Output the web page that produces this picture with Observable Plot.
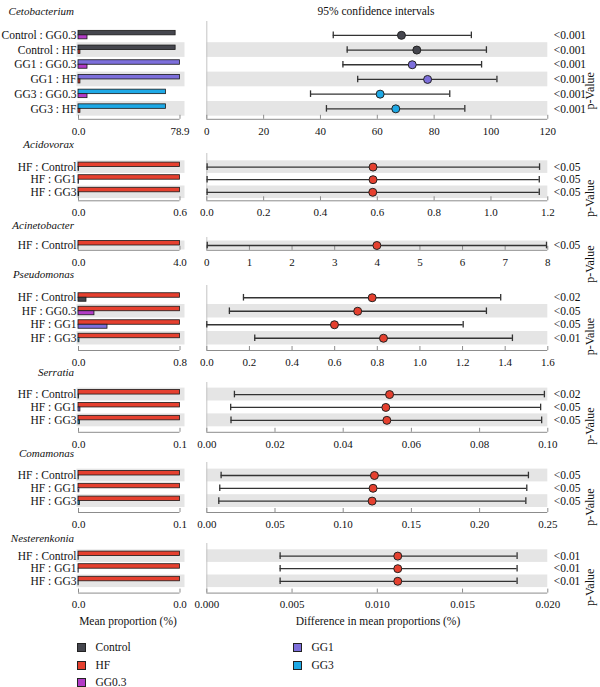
<!DOCTYPE html>
<html>
<head>
<meta charset="utf-8">
<script src="https://cdn.jsdelivr.net/npm/d3@7"></script>
<script src="https://cdn.jsdelivr.net/npm/@observablehq/plot@0.6"></script>
<style>
  body { margin: 0; background: #fff; }
  #fig { position: relative; width: 600px; height: 687px; overflow: hidden;
         font-family: "Liberation Serif", "DejaVu Serif", serif; color: #111; }
  .lbl { position: absolute; white-space: nowrap; line-height: 14px; }
  .title { font-style: italic; font-size: 11px; text-align: right; width: 74px; left: 0; }
  .swatch { position: absolute; width: 7px; height: 7px; border: 1px solid #222; }
</style>
</head>
<body>
<div id="fig"></div>
<script>
// Groups and their colours
const groups = ["Control", "HF", "GG0.3", "GG1", "GG3"];
const groupColors = ["#45464e", "#e5402f", "#b23bc6", "#7d6fdb", "#1ea9e6"];

const genera = ["Cetobacterium", "Acidovorax", "Acinetobacter", "Pseudomonas", "Serratia", "Comamonas", "Nesterenkonia"];

// Rows per genus: [group A, group B, mean A (%), mean B (%), difference, CI low, CI high, p]
const cetobacterium = [
  ["Control", "GG0.3", 75.5, 7.0, 68.5, 44.5, 93.1, "<0.001"],
  ["Control", "HF",    75.5, 1.5, 73.9, 49.4, 98.4, "<0.001"],
  ["GG1",     "GG0.3", 78.9, 7.0, 72.3, 47.9, 96.7, "<0.001"],
  ["GG1",     "HF",    78.9, 1.5, 77.7, 53.1, 102.1, "<0.001"],
  ["GG3",     "GG0.3", 68.0, 7.0, 61.0, 36.5, 85.5, "<0.001"],
  ["GG3",     "HF",    68.0, 1.5, 66.5, 42.1, 90.8, "<0.001"]
];
const acidovorax = [
  ["HF", "Control", 0.59, 0.003, 0.585, 0.001, 1.171, "<0.05"],
  ["HF", "GG1",     0.59, 0.003, 0.585, 0.001, 1.170, "<0.05"],
  ["HF", "GG3",     0.59, 0.004, 0.584, 0.001, 1.170, "<0.05"]
];
const acinetobacter = [
  ["HF", "Control", 3.99, 0.004, 3.99, 0.01, 7.97, "<0.05"]
];
const pseudomonas = [
  ["HF", "Control", 0.84, 0.066, 0.776, 0.172, 1.379, "<0.02"],
  ["HF", "GG0.3",   0.84, 0.132, 0.708, 0.106, 1.312, "<0.05"],
  ["HF", "GG1",     0.84, 0.240, 0.599, 0.000, 1.203, "<0.05"],
  ["HF", "GG3",     0.84, 0.008, 0.829, 0.225, 1.434, "<0.01"]
];
const serratia = [
  ["HF", "Control", 0.0535, 0.0003, 0.0536, 0.0081, 0.0990, "<0.02"],
  ["HF", "GG1",     0.0535, 0.0010, 0.0525, 0.0070, 0.0979, "<0.05"],
  ["HF", "GG3",     0.0535, 0.0008, 0.0528, 0.0071, 0.0982, "<0.05"]
];
const comamonas = [
  ["HF", "Control", 0.123, 0.0003, 0.1229, 0.0105, 0.2358, "<0.05"],
  ["HF", "GG1",     0.123, 0.0010, 0.1219, 0.0095, 0.2346, "<0.05"],
  ["HF", "GG3",     0.123, 0.0016, 0.1212, 0.0088, 0.2339, "<0.05"]
];
const nesterenkonia = [
  ["HF", "Control", 0.0112, 0.00002, 0.0112, 0.0043, 0.0182, "<0.01"],
  ["HF", "GG1",     0.0112, 0.00002, 0.0112, 0.0043, 0.0182, "<0.01"],
  ["HF", "GG3",     0.0112, 0.00002, 0.0112, 0.0043, 0.0182, "<0.01"]
];

// Confidence-interval axes: upper limit, tick step and tick format
const ciMax = [120, 1.2, 8, 1.6, 0.10, 0.25, 0.020];
const ciStep = [20, 0.2, 1, 0.2, 0.02, 0.05, 0.005];
const ciFormat = ["d", ".1f", "d", ".1f", ".2f", ".2f", ".3f"];

const panels = [cetobacterium, acidovorax, acinetobacter, pseudomonas, serratia, comamonas, nesterenkonia];

// Vertical layout of each panel (page pixels)
const layout = [
  {title: 11,    top: 20.5,  band: 27,    step: 14.7, axis: 118.3},
  {title: 143.5, top: 152.7, band: 160,   step: 12.6, axis: 200},
  {title: 225,   top: 236.5, band: 240,   step: 9,    axis: 249.3},
  {title: 274,   top: 285,   band: 290.5, step: 13.5, axis: 350},
  {title: 372,   top: 381.7, band: 387.3, step: 12.9, axis: 431.5},
  {title: 453.3, top: 461.7, band: 468.3, step: 12.8, axis: 511.7},
  {title: 537.7, top: 542.7, band: 549,   step: 12.6, axis: 592.3}
];

const fig = document.getElementById("fig");
const colorOf = g => groupColors[groups.indexOf(g)];
const svgStyle = {background: "transparent", overflow: "visible",
  fontFamily: '"Liberation Serif", "DejaVu Serif", serif', fontSize: "11px", color: "#111"};
const axisGray = "#8c8c8c";
const bandGray = "#e5e5e5";

function label(text, x, y, cls, extra = {}) {
  const d = document.createElement("div");
  d.className = "lbl " + (cls || "");
  d.textContent = text;
  d.style.top = (y - 7) + "px";
  if (x != null) d.style.left = x + "px";
  Object.assign(d.style, extra);
  fig.appendChild(d);
  return d;
}

function place(svg, left, top) {
  svg.style.position = "absolute";
  svg.style.left = left + "px";
  svg.style.top = top + "px";
  fig.appendChild(svg);
}

panels.forEach((rows, k) => {
  const L = layout[k];
  const n = rows.length;
  const oy = L.top - 1;
  const frameBottom = L.axis - oy;
  const H = frameBottom + 24;
  const mb = H - frameBottom;
  const u = px => px / L.step;                        // pixels → row units
  const axisVal = -0.5 + (L.axis - L.band) / L.step;  // row units of the axis line
  const yScale = {domain: [-0.5, n - 0.5], range: [L.band - oy, L.band - oy + n * L.step], axis: null};

  const data = rows.map((r, i) => ({
    i, a: r[0], b: r[1], ma: r[2], mb: r[3], diff: r[4], lo: r[5], hi: r[6], p: r[7],
    label: `${r[0]} : ${r[1]}`
  }));
  const shaded = data.filter(d => (n - 1 - d.i) % 2 === 0);
  const barMax = d3.max(data, d => Math.max(d.ma, d.mb));

  // Mean proportions
  const left = Plot.plot({
    width: 190, height: H,
    marginTop: 1, marginBottom: mb, marginLeft: 76.5, marginRight: 5.5,
    style: svgStyle,
    color: {type: "identity"},
    x: {domain: [0, barMax], insetLeft: 1.5, insetRight: 5,
        ticks: [0, barMax], tickFormat: d3.format(".1f"), tickSize: 0, tickPadding: 7.5, label: null},
    y: yScale,
    marks: [
      Plot.rect(shaded, {y1: d => d.i - 0.5, y2: d => d.i + 0.5, fill: bandGray}),
      Plot.rect(data, {x1: d => 0, x2: "ma", y1: d => d.i - u(4.5), y2: d => d.i,
        fill: d => colorOf(d.a), stroke: "#1a1a1a", strokeWidth: 0.8}),
      Plot.rect(data, {x1: d => 0, x2: "mb", y1: d => d.i, y2: d => d.i + u(4),
        fill: d => colorOf(d.b), stroke: "#1a1a1a", strokeWidth: 0.8}),
      Plot.text(data, {x: d => 0, y: "i", text: "label", textAnchor: "end", dx: -2, fontSize: 11.5}),
      Plot.ruleY([axisVal], {x1: 0, x2: barMax, stroke: axisGray}),
      Plot.ruleX([0, barMax], {x: d => d, y1: axisVal, y2: axisVal - u(4), stroke: axisGray})
    ]
  });
  place(left, 0, oy);

  // Differences with 95% confidence intervals
  const ticks = d3.range(0, ciMax[k] + ciStep[k] / 2, ciStep[k]);
  const right = Plot.plot({
    width: 410, height: H,
    marginTop: 1, marginBottom: mb, marginLeft: 16.3, marginRight: 52.7,
    style: svgStyle,
    color: {type: "identity"},
    x: {domain: [0, ciMax[k]], ticks, tickFormat: d3.format(ciFormat[k]),
        tickSize: 0, tickPadding: 7.5, label: null},
    y: yScale,
    marks: [
      Plot.rect(shaded, {y1: d => d.i - 0.5, y2: d => d.i + 0.5, fill: bandGray}),
      Plot.ruleX([0], {stroke: "#c4c4c4"}),
      Plot.ruleY([axisVal], {x1: 0, x2: ciMax[k], stroke: axisGray}),
      Plot.ruleX(ticks, {x: d => d, y1: axisVal, y2: axisVal - u(4), stroke: axisGray}),
      Plot.ruleY(data, {y: "i", x1: "lo", x2: "hi", stroke: "#333", strokeWidth: 1.3}),
      Plot.ruleX(data, {x: "lo", y1: d => d.i - u(3.3), y2: d => d.i + u(3.3), stroke: "#333", strokeWidth: 1.3}),
      Plot.ruleX(data, {x: "hi", y1: d => d.i - u(3.3), y2: d => d.i + u(3.3), stroke: "#333", strokeWidth: 1.3}),
      Plot.dot(data, {x: "diff", y: "i", r: 4, fill: d => colorOf(d.a), stroke: "#222", strokeWidth: 1}),
      Plot.text(data, {y: "i", text: "p", frameAnchor: "right", dx: 6, textAnchor: "start", fontSize: 11.5}),
      Plot.text([(n - 1) / 2], {y: d => d, text: () => "p-Value", frameAnchor: "right", dx: 42.5,
        rotate: -90, fontSize: 12, ariaLabel: "pvalue-title"})
    ]
  });
  // italic p in the rotated p-Value title
  const pt = right.querySelector('g[aria-label="pvalue-title"] text');
  if (pt) {
    pt.textContent = "";
    const t1 = document.createElementNS("http://www.w3.org/2000/svg", "tspan");
    t1.setAttribute("font-style", "italic");
    t1.textContent = "p";
    const t2 = document.createElementNS("http://www.w3.org/2000/svg", "tspan");
    t2.textContent = "-Value";
    pt.appendChild(t1);
    pt.appendChild(t2);
  }
  place(right, 190, oy);

  label(genera[k], null, L.title, "title");
});

label("95% confidence intervals", null, 11, "", {left: "276px", width: "200px", textAlign: "center", fontSize: "11.5px"});
label("Mean proportion (%)", null, 621, "", {left: "28px", width: "200px", textAlign: "center", fontSize: "11.5px"});
label("Difference in mean proportions (%)", null, 621, "", {left: "228px", width: "300px", textAlign: "center", fontSize: "11.5px"});

// Legend: three rows per column
const legendRows = [647.3, 665.3, 682.3];
groups.forEach((g, j) => {
  const col = Math.floor(j / 3), row = j % 3;
  const sx = col === 0 ? 77 : 293;
  const yc = legendRows[row];
  const sw = document.createElement("div");
  sw.className = "swatch";
  sw.style.left = sx + "px";
  sw.style.top = (yc - 4.5) + "px";
  sw.style.background = groupColors[j];
  fig.appendChild(sw);
  label(g, sx + 18.5, yc, "", {fontSize: "11.5px"});
});
</script>
</body>
</html>
